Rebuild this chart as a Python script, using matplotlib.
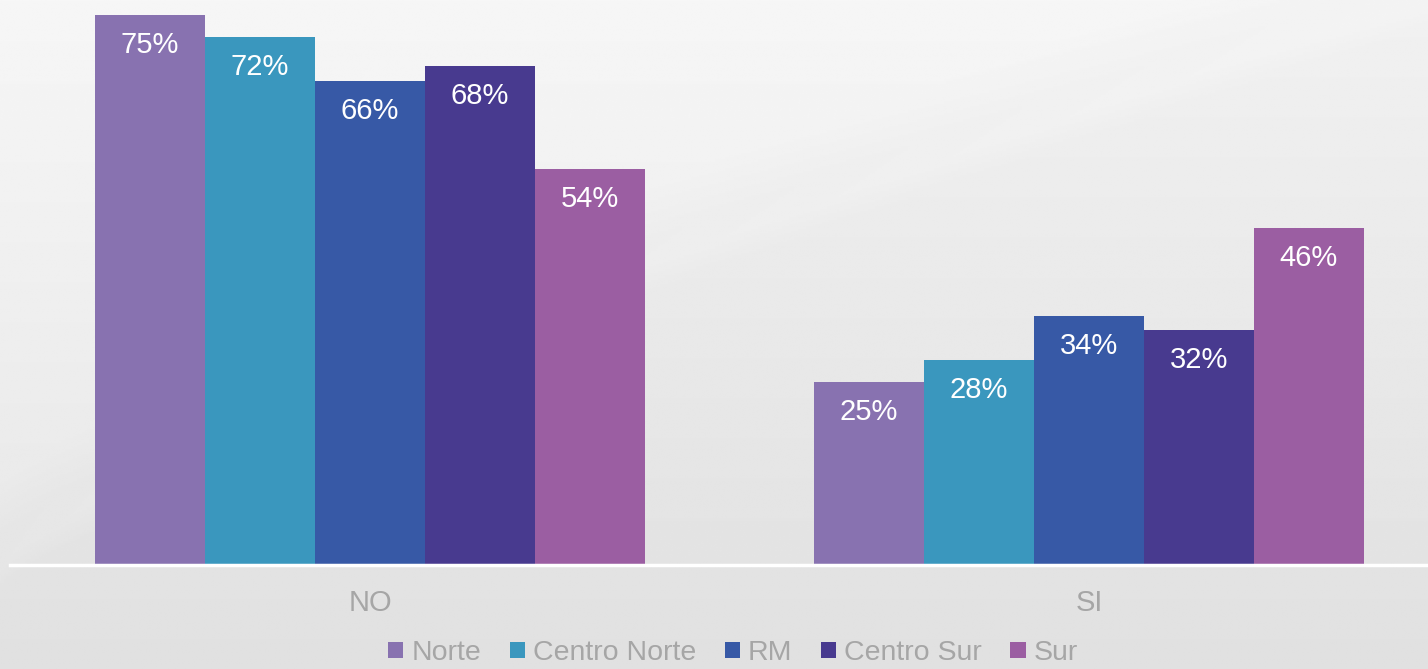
import numpy as np
import matplotlib.pyplot as plt

# datos
categorias = ['NO', 'SI']
series = ['Norte', 'Centro Norte', 'RM', 'Centro Sur', 'Sur']
norte = [75, 25]
centro_norte = [72, 28]
rm = [66, 34]
centro_sur = [68, 32]
sur = [54, 46]
valores = [norte, centro_norte, rm, centro_sur, sur]
colores = ['#8872B0', '#3A97BE', '#3759A6', '#483A8F', '#9B5EA2']

plt.rcParams['font.family'] = ['Liberation Sans', 'DejaVu Sans']

W, H = 1428, 669
fig = plt.figure(figsize=(W / 100, H / 100), dpi=100)

# fondo degradado con una curva clara y suave
bg = fig.add_axes([0, 0, 1, 1])
yy, xx = np.mgrid[0:1:300j, 0:1:600j]
base = 0.945 - 0.065 * yy
curva = 0.85 - 0.85 * xx ** 0.8
dist = (curva - yy)
brillo = np.clip(dist / 0.12, 0, 1) * 0.02 + np.clip(1 - np.abs(dist) / 0.04, 0, 1) * 0.012
img = np.clip(base + brillo, 0, 1)
bg.imshow(img, cmap='gray', vmin=0, vmax=1, aspect='auto', extent=[0, 1, 1, 0],
          interpolation='bilinear')
bg.set_xlim(0, 1)
bg.set_ylim(1, 0)
bg.axis('off')

x0 = 10 / W
ax = fig.add_axes([x0, (H - 565) / H, 1 - x0, (565 - 15) / H])
ax.patch.set_alpha(0)
x = np.arange(len(categorias))
ancho = 110 / 719
for i, (nombre, vals, col) in enumerate(zip(series, valores, colores)):
    pos = x + (i - 2) * ancho
    bars = ax.bar(pos, vals, width=ancho, color=col, label=nombre, linewidth=0)
    for b, v in zip(bars, vals):
        ax.text(b.get_x() + b.get_width() / 2, v - 4.1, f'{v}%',
                ha='center', va='center', color='white', fontsize=21)

ax.set_xlim(-0.5007, 1.4715)
ax.set_ylim(0, 75)
ax.axhline(0, color='white', linewidth=2.5, clip_on=False)
for s in ax.spines.values():
    s.set_visible(False)
ax.set_yticks([])
ax.set_xticks(x)
ax.set_xticklabels(categorias, color='#a6a6a6', fontsize=21)
ax.tick_params(axis='x', length=0, pad=17)

leg = fig.legend(loc='center', bbox_to_anchor=(733 / W, 1 - 653 / H), ncol=5,
                 frameon=False, fontsize=20.5, handlelength=0.53, handleheight=0.53,
                 handletextpad=0.29, columnspacing=1.0, labelcolor='#a6a6a6',
                 borderpad=0.2)

fig.savefig('out.png', dpi=100)
